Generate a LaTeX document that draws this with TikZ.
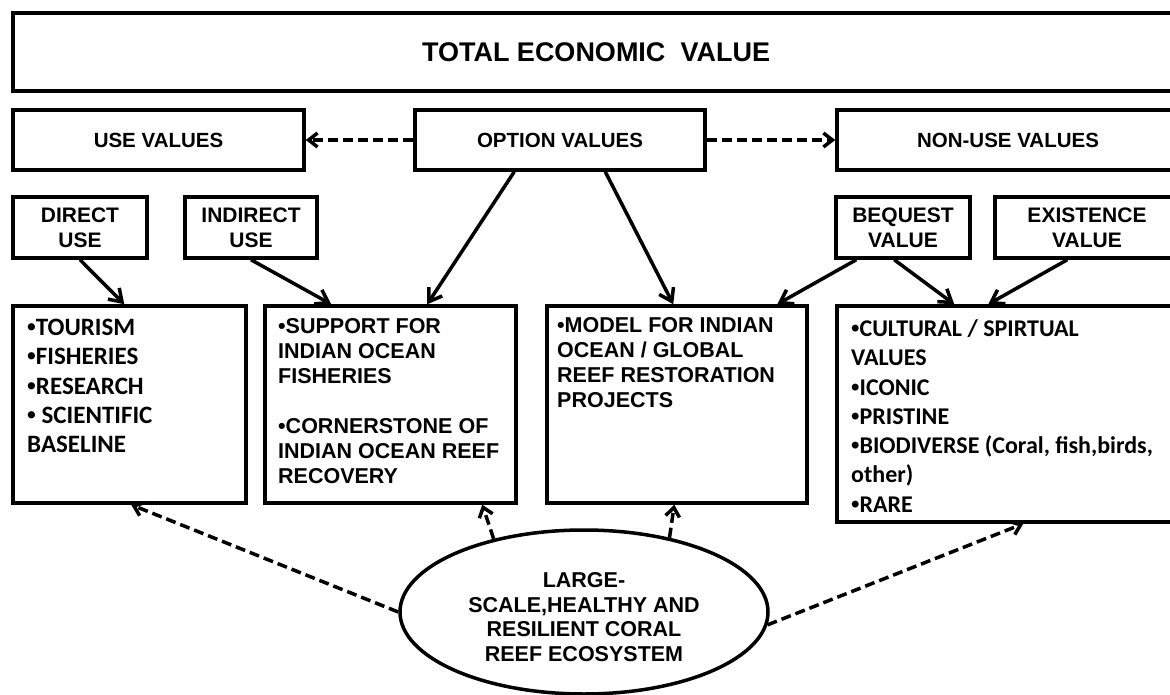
\documentclass[tikz,border=0pt]{standalone}
\usepackage{fontspec}
\setmainfont{Liberation Sans}
\newfontfamily\calibri{Carlito}
\newfontfamily\arialf{Liberation Sans}
\newcommand\bul{{\arialf\bfseries •}}
\usetikzlibrary{arrows.meta,shapes.geometric}

\begin{document}
\begin{tikzpicture}[x=1pt,y=-1pt,
  box/.style={draw=black, line width=3.5pt, rectangle, inner sep=0pt, line join=miter},
  title/.style={font=\bfseries\fontsize{27}{32}\selectfont},
  head/.style={font=\bfseries\fontsize{20.5}{25}\selectfont},
  kind/.style={font=\bfseries\fontsize{21}{25}\selectfont, align=center},
  arialtxt/.style={font=\bfseries\fontsize{21.5}{25}\selectfont, align=left, anchor=north west, inner sep=0pt},
  calibtxt/.style={font=\calibri\bfseries\fontsize{24}{29.3}\selectfont, align=left, anchor=north west, inner sep=0pt},
  link/.style={line width=3.5pt, -{Straight Barb[length=12pt,width=16pt]}},
  dlink/.style={line width=3.5pt, dash pattern=on 10pt off 5pt, -{Straight Barb[length=9pt,width=14pt]}},
]
\useasboundingbox (0,0) rectangle (1170,695);
\fill[white] (0,0) rectangle (1170,695);
\clip (0,0) rectangle (1170,695);

% top level
\node[box, title, minimum width=1166pt, minimum height=78pt] (tev) at (596,52) {TOTAL ECONOMIC\ \ VALUE};

% value categories
\node[box, head, minimum width=291pt, minimum height=60pt] (usev) at (158.5,140) {USE VALUES};
\node[box, head, minimum width=290pt, minimum height=60pt] (optv) at (560,140) {OPTION VALUES};
\node[box, head, minimum width=342pt, minimum height=60pt] (nonusev) at (1008,140) {NON-USE VALUES};

% value kinds
\node[box, kind, minimum width=134pt, minimum height=61pt] (direct) at (80,227.5) {DIRECT\\USE};
\node[box, kind, minimum width=132pt, minimum height=61pt] (indirect) at (251,227.5) {INDIRECT\\USE};
\node[box, kind, minimum width=134pt, minimum height=61pt] (bequest) at (903,227.5) {BEQUEST\\VALUE};
\node[box, kind, minimum width=184pt, minimum height=61pt] (existence) at (1087,227.5) {EXISTENCE\\VALUE};

% benefit boxes
\node[box, minimum width=233pt, minimum height=197pt] (b1) at (129.5,404.5) {};
\node[box, minimum width=251pt, minimum height=197pt] (b2) at (390.5,404.5) {};
\node[box, minimum width=260pt, minimum height=197pt] (b3) at (677,404.5) {};
\node[box, minimum width=342pt, minimum height=216pt] (b4) at (1008,414) {};

\node[calibtxt, font=\calibri\bfseries\fontsize{25}{29.3}\selectfont] (b1txt) at (27,319.1)
      {\bul TOURISM\\\bul FISHERIES\\\bul RESEARCH\\\bul\ SCIENTIFIC\\BASELINE};
\node[arialtxt] (b2txt) at (278,318.3) {•SUPPORT FOR\\INDIAN OCEAN\\FISHERIES\\[25pt]•CORNERSTONE OF\\INDIAN OCEAN REEF\\RECOVERY};
\node[arialtxt] (b3txt) at (557,317.3) {•MODEL FOR INDIAN\\OCEAN / GLOBAL\\REEF RESTORATION\\PROJECTS};
\node[calibtxt] (b4txt) at (851,319.4) {\bul CULTURAL / SPIRTUAL\\VALUES\\\bul ICONIC\\\bul PRISTINE\\\bul BIODIVERSE (Coral, fish,birds,\\other)\\\bul RARE};

% ecosystem
\node[draw=black, line width=3.5pt, ellipse, minimum width=368pt, minimum height=164pt, inner sep=0pt] (eco) at (584,612) {};
\node[font=\bfseries\fontsize{21.5}{24.5}\selectfont, align=center, inner sep=0pt] (ecotxt) at (584,617)
      {LARGE-\\SCALE,HEALTHY AND\\RESILIENT CORAL\\REEF ECOSYSTEM};

% option values link both sides
\draw[dlink] (optv.west) -- (usev.east);
\draw[dlink] (optv.east) -- (nonusev.west);

% solid links into the benefit boxes
\draw[link] (direct.south) -- ([xshift=113pt]b1.north west);
\draw[link] (indirect.south) -- ([xshift=68pt]b2.north west);
\draw[link] ([xshift=101pt]optv.south west) -- ([xshift=164pt]b2.north west);
\draw[link] ([xshift=192pt]optv.south west) -- ([xshift=128pt]b3.north west);
\draw[link] ([xshift=22pt]bequest.south west) -- ([xshift=232pt]b3.north west);
\draw[link] ([xshift=60pt]bequest.south west) -- ([xshift=119pt]b4.north west);
\draw[link] ([xshift=74pt]existence.south west) -- ([xshift=153pt]b4.north west);

% dashed links from the ecosystem
\draw[dlink] (eco.west) -- ([xshift=120pt]b1.south west);
\draw[dlink] (eco.141) -- ([xshift=219pt]b2.south west);
\draw[dlink] (eco.41) -- ([xshift=129pt]b3.south west);
\draw[dlink] (eco.-4) -- ([xshift=188pt]b4.south west);
\end{tikzpicture}
\end{document}
